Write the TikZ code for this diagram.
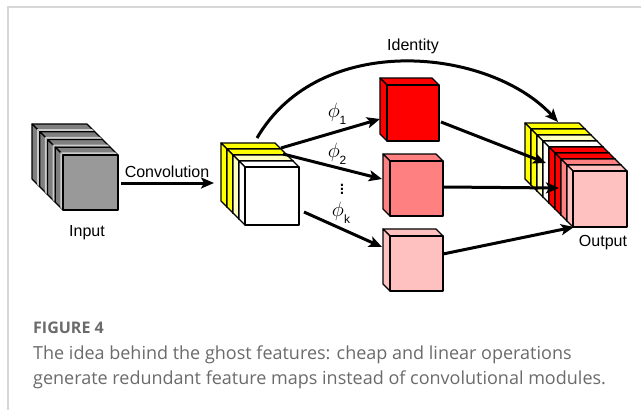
\documentclass[tikz,border=0pt]{standalone}
\usepackage{fontspec}
\setmainfont{Liberation Sans}
\setsansfont{Liberation Sans}
\newfontfamily\capfont{Open Sans}
\usetikzlibrary{arrows.meta}

\definecolor{gdark}{HTML}{7F7F7F}
\definecolor{glight}{HTML}{CCCCCC}
\definecolor{gfront}{HTML}{999999}
\definecolor{yel}{HTML}{FFFF00}
\definecolor{paleyel}{HTML}{FFFFC0}
\definecolor{salmon}{HTML}{FF8080}
\definecolor{pinkish}{HTML}{FFC0C0}
\definecolor{captxt}{HTML}{6B6B6B}
\definecolor{framegray}{HTML}{D6D6D6}

% one slab of a feature-map stack: front face top-left (x,y), width, height,
% depth, colour of the top/left faces, colour of the front face
\newcommand\slab[7]{%
  \filldraw[fill=#6,slabline] (#1,#2) -- ({#1+#3},#2) -- ({#1+#3-#5},{#2-#5}) -- ({#1-#5},{#2-#5}) -- cycle;
  \filldraw[fill=#6,slabline] (#1,#2) -- (#1,{#2+#4}) -- ({#1-#5},{#2+#4-#5}) -- ({#1-#5},{#2-#5}) -- cycle;
  \filldraw[fill=#7,slabline] (#1,#2) rectangle ({#1+#3},{#2+#4});
}
% light band along the front edge of a slab's top and left faces
\newcommand\band[5]{%
  \fill[glight] ({#1-0.6},{#2-0.6}) -- ({#1+#3-0.6},{#2-0.6}) -- ({#1+#3-#5},{#2-#5}) -- ({#1-#5},{#2-#5}) -- cycle;
  \fill[glight] ({#1-0.6},{#2-0.6}) -- ({#1-0.6},{#2+#4-0.6}) -- ({#1-#5},{#2+#4-#5}) -- ({#1-#5},{#2-#5}) -- cycle;
}

\tikzset{
  slabline/.style={draw=black, line width=1.3pt, line join=round},
  thinslab/.style={slabline/.style={draw=black, line width=1.1pt, line join=round}},
  flow/.style={line width=3pt, -{Stealth[length=13pt,width=11pt,inset=3pt]}},
  lbl/.style={font=\fontsize{16}{19}\selectfont, text=black, inner sep=0pt},
  phil/.style={font=\fontsize{21}{21}\selectfont, inner sep=0pt},
  subl/.style={font=\fontsize{12}{12}\selectfont, inner sep=0pt},
}

\begin{document}
\begin{tikzpicture}[x=1pt,y=-1pt]
\useasboundingbox (0,0) rectangle (641,410);
\fill[white] (0,0) rectangle (641,410);
% panel frame
\draw[framegray, line width=1.5pt] (8,410) -- (8,7) -- (641,7);

% input stack: four slabs, each with a light band at its front edge
\begin{scope}[thinslab]
\foreach \o in {23.25, 15.5, 7.75, 0}
  {\slab{63-\o}{155-\o}{55}{55}{7.75}{gdark}{gfront}
   \band{63-\o}{155-\o}{55}{55}{2.6}
   \draw[line width=1.1pt, line join=round] ({63-\o},{210-\o}) -- ({63-\o},{155-\o}) -- ({118-\o},{155-\o});}
\end{scope}

% convolution output
\foreach \o/\c in {18/yel, 12/yel, 6/paleyel, 0/white}
  {\slab{245-\o}{167-\o}{54}{58}{6}{\c}{white}}

% cheap operations results
\slab{387}{85}{52}{56}{7}{red}{red}
\slab{390}{161}{53}{55}{7}{salmon}{salmon}
\slab{390}{236}{53}{55}{7}{pinkish}{pinkish}

% output stack
\foreach \o/\c in {42/yel, 36/yel, 30/paleyel, 24/white, 18/red, 12/red, 6/salmon, 0/pinkish}
  {\slab{573-\o}{171-\o}{54}{56}{6}{\c}{pinkish}}

% connection points
\coordinate (inR) at (121,183);
\coordinate (yL) at (214,183);
\coordinate (yTop) at (257,138);
\coordinate (y1) at (281,148);
\coordinate (y2) at (283,154);
\coordinate (yk) at (304,212);
\coordinate (c1L) at (380,119);
\coordinate (c2L) at (382,179);
\coordinate (c3L) at (382,247);
\coordinate (c1R) at (441,122);
\coordinate (c2R) at (443,187);
\coordinate (c3R) at (443,254);
\coordinate (o1) at (546,163);
\coordinate (o2) at (559,188);
\coordinate (o3) at (574,227);
\coordinate (oTop) at (558,122);

% connectors
\draw[flow] (inR) -- (yL);
\draw[flow] (yTop) .. controls (320,30) and (490,48) .. (oTop);
\draw[flow] (y1) -- (c1L);
\draw[flow] (y2) -- (c2L);
\draw[flow] (yk) -- (c3L);
\draw[flow] (c1R) -- (o1);
\draw[flow] (c2R) -- (o2);
\draw[flow] (c3R) -- (o3);

% labels
\node[lbl] (tconv) at (167,172) {Convolution};
\node[lbl] (tin) at (87,233) {Input};
\node[lbl] (tout) at (603,243) {Output};
\node[lbl] (tid) at (413,46) {Identity};
\node[phil] (p1) at (334,112) {$\phi$};
\node[subl] (s1) at (343,120) {1};
\node[phil] (p2) at (334,152) {$\phi$};
\node[subl] (s2) at (343,160) {2};
\node[phil] (pd) at (342,186) {$\vdots$};
\node[phil] (pk) at (338,211) {$\phi$};
\node[subl] (sk) at (347,219) {k};

% caption
\node[anchor=base west, inner sep=0, text=captxt, font=\capfont\bfseries\fontsize{16}{20}\selectfont] (fig) at (33,333) {FIGURE 4};
\node[anchor=base west, inner sep=0, text=captxt, font=\capfont\fontsize{18}{20}\selectfont] (cap1) at (33,359) {The idea behind the ghost features: cheap and linear operations};
\node[anchor=base west, inner sep=0, text=captxt, font=\capfont\fontsize{18}{20}\selectfont] (cap2) at (33,384) {generate redundant feature maps instead of convolutional modules.};
\end{tikzpicture}
\end{document}
